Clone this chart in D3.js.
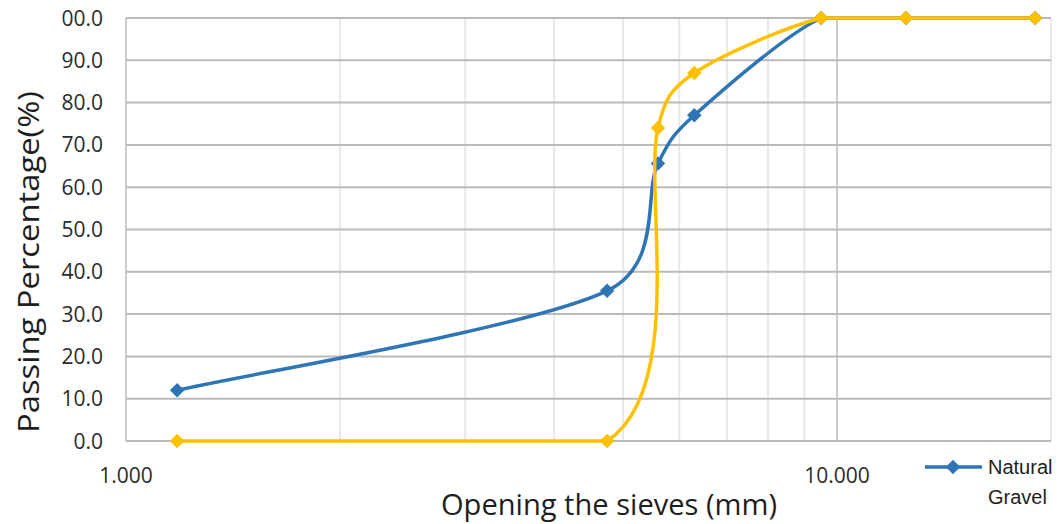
<!DOCTYPE html>
<html><head><meta charset="utf-8">
<script src="https://cdn.jsdelivr.net/npm/d3@7"></script>
<style>body{margin:0;background:#fff}svg{display:block}</style>
</head><body>
<svg id="c" width="1064" height="524"></svg>
<script>
const sieves = [1.18, 4.75, 5.6, 6.3, 9.5, 12.5, 19];
const naturalGravel = [12.0, 35.5, 65.6, 77.0, 100, 100, 100];
const secondSeries = [0.0, 0.0, 74.0, 87.0, 100, 100, 100];
const yTicks = [0,10,20,30,40,50,60,70,80,90,100];
const yTickLabels = ["0.0","10.0","20.0","30.0","40.0","50.0","60.0","70.0","80.0","90.0","00.0"];
const xMajorTicks = [1, 10];
const xTickLabels = ["1.000", "10.000"];
const xMinorTicks = [2,3,4,5,6,7,8,9,20];

const svg = d3.select("#c");
const x = d3.scaleLog().domain([1,20]).range([126,1051]);
const y = d3.scaleLinear().domain([0,100]).range([441,18]);

svg.append("g").selectAll("line").data(xMinorTicks).join("line")
  .attr("x1", d=>x(d)).attr("x2", d=>x(d)).attr("y1", y(100)).attr("y2", y(0))
  .attr("stroke", "#e8e8e8").attr("stroke-width", 2);
svg.append("g").selectAll("line").data(xMajorTicks).join("line")
  .attr("x1", d=>x(d)).attr("x2", d=>x(d)).attr("y1", y(100)).attr("y2", y(0))
  .attr("stroke", "#cccccc").attr("stroke-width", 2);
svg.append("g").selectAll("line").data(yTicks).join("line")
  .attr("x1", x(1)).attr("x2", x(20)).attr("y1", d=>y(d)).attr("y2", d=>y(d))
  .attr("stroke", "#bababa").attr("stroke-width", 2);

svg.append("g").selectAll("text").data(yTicks).join("text")
  .attr("x", 103).attr("y", d=>y(d)).attr("dy", "0.36em")
  .attr("text-anchor", "end").attr("font-family", "Open Sans, sans-serif")
  .attr("font-size", 21).attr("fill", "#2b2b2b")
  .text((d,i)=>yTickLabels[i]);
svg.append("g").selectAll("text").data(xMajorTicks).join("text")
  .attr("x", d=>x(d)).attr("y", 483)
  .attr("text-anchor", "middle").attr("font-family", "Open Sans, sans-serif")
  .attr("font-size", 21).attr("fill", "#2b2b2b")
  .text((d,i)=>xTickLabels[i]);

svg.append("text").attr("transform", "translate(39,262) rotate(-90)")
  .attr("text-anchor", "middle").attr("font-family", "Open Sans, sans-serif")
  .attr("font-size", 30).attr("fill", "#1e1e1e")
  .attr("textLength", 342).attr("lengthAdjust", "spacingAndGlyphs")
  .text("Passing Percentage(%)");
svg.append("text").attr("x", 609).attr("y", 515)
  .attr("text-anchor", "middle").attr("font-family", "Open Sans, sans-serif")
  .attr("font-size", 29).attr("fill", "#1e1e1e")
  .attr("textLength", 336).attr("lengthAdjust", "spacingAndGlyphs")
  .text("Opening the sieves (mm)");

// Excel-like smoothed line: Catmull-Rom tangents, handles capped by segment length,
// control points kept inside the axis range
function smoothPath(pts) {
  const p = pts.map(d => [x(d[0]), y(d[1])]);
  const n = p.length, path = d3.path();
  const lo = y(100), hi = y(0);
  const cl = v => Math.min(hi, Math.max(lo, v));
  const cap = (v, m) => { const L = Math.hypot(v[0], v[1]); return L > m ? [v[0]*m/L, v[1]*m/L] : v; };
  path.moveTo(p[0][0], p[0][1]);
  for (let i = 0; i < n - 1; i++) {
    const p0 = p[Math.max(i-1,0)], p1 = p[i], p2 = p[i+1], p3 = p[Math.min(i+2,n-1)];
    const d12 = Math.hypot(p2[0]-p1[0], p2[1]-p1[1]), m = d12 * 0.45;
    const h1 = cap([(p2[0]-p0[0])/6, (p2[1]-p0[1])/6], m);
    const h2 = cap([(p3[0]-p1[0])/6, (p3[1]-p1[1])/6], m);
    path.bezierCurveTo(p1[0]+h1[0], cl(p1[1]+h1[1]), p2[0]-h2[0], cl(p2[1]-h2[1]), p2[0], p2[1]);
  }
  return path.toString();
}

function drawSeries(vals, color) {
  const pts = sieves.map((s,i)=>[s, vals[i]]);
  svg.append("path").attr("d", smoothPath(pts)).attr("fill", "none")
    .attr("stroke", color).attr("stroke-width", 3.5).attr("stroke-linejoin","round");
  svg.append("g").selectAll("path").data(pts).join("path")
    .attr("d", d3.symbol().type(d3.symbolSquare).size(105))
    .attr("transform", d=>`translate(${x(d[0])},${y(d[1])}) rotate(45)`)
    .attr("fill", color);
}
drawSeries(naturalGravel, "#2e75b6");
drawSeries(secondSeries, "#ffc000");

const lg = svg.append("g");
lg.append("line").attr("x1", 925).attr("x2", 982).attr("y1", 467).attr("y2", 467)
  .attr("stroke", "#2e75b6").attr("stroke-width", 3.5);
lg.append("path").attr("d", d3.symbol().type(d3.symbolSquare).size(105))
  .attr("transform", "translate(953,467) rotate(45)").attr("fill", "#2e75b6");
lg.append("text").attr("x", 988).attr("y", 474).attr("font-family", "Liberation Sans, Arial, sans-serif")
  .attr("font-size", 20).attr("fill", "#1e1e1e").text("Natural");
lg.append("text").attr("x", 988).attr("y", 504).attr("font-family", "Liberation Sans, Arial, sans-serif")
  .attr("font-size", 20).attr("fill", "#1e1e1e").text("Gravel");
</script>
</body></html>
